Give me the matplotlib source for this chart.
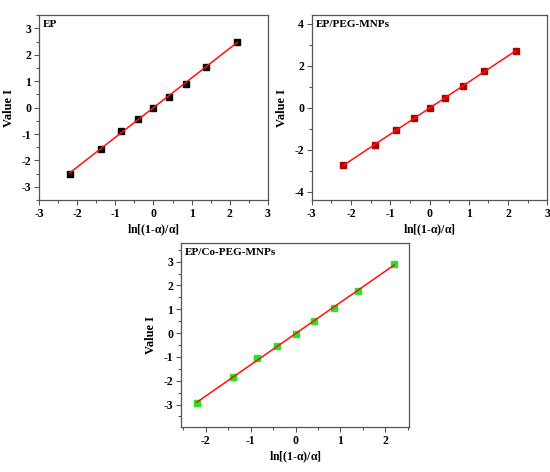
import numpy as np
import matplotlib
matplotlib.use("Agg")
import matplotlib.pyplot as plt
from matplotlib.ticker import MultipleLocator

plt.rcParams['font.family'] = ['Liberation Serif', 'DejaVu Serif']
plt.rcParams['font.weight'] = 'bold'
plt.rcParams['axes.unicode_minus'] = False
plt.rcParams['mathtext.fontset'] = 'custom'
plt.rcParams['mathtext.bf'] = 'Liberation Serif:bold'
plt.rcParams['mathtext.rm'] = 'Liberation Serif'

# ln[(1-a)/a] values (same for all samples)
x_vals = [-2.197, -1.386, -0.847, -0.405, 0.0, 0.405, 0.847, 1.386, 2.197]

ep_y = [-2.5, -1.55, -0.9, -0.42, 0.0, 0.4, 0.9, 1.55, 2.5]
peg_y = [-2.72, -1.8, -1.08, -0.5, 0.0, 0.47, 1.03, 1.72, 2.68]
co_y = [-2.95, -1.83, -1.05, -0.55, -0.02, 0.5, 1.05, 1.75, 2.9]

labels = ["EP", "EP/PEG-MNPs", "EP/Co-PEG-MNPs"]

fig = plt.figure(figsize=(5.5, 4.72), dpi=100)

def panel(rect, y, name, mcolor, xlim, ylim, ymaj, ymin, xticks):
    ax = fig.add_axes(rect)
    x = np.array(x_vals)
    yy = np.array(y)
    k, b = np.polyfit(x, yy, 1)
    ax.plot(x, yy, 's', ms=4.8, color=mcolor, mec=mcolor, zorder=2)
    ax.plot([x[0], x[-1]], [k * x[0] + b, k * x[-1] + b], '-', color='#ff1010', lw=1.1, zorder=3)
    ax.set_xlim(*xlim)
    ax.set_ylim(*ylim)
    ax.set_xticks(xticks)
    ax.xaxis.set_minor_locator(MultipleLocator(0.5))
    ax.yaxis.set_major_locator(MultipleLocator(ymaj))
    ax.yaxis.set_minor_locator(MultipleLocator(ymin))
    ax.tick_params(which='both', direction='out', labelsize=8.5, color='#555555', width=0.8, pad=2)
    ax.tick_params(which='major', length=3.5)
    ax.tick_params(which='minor', length=2)
    for s in ax.spines.values():
        s.set_color('#555555')
        s.set_linewidth(0.9)
    for t in ax.get_xticklabels() + ax.get_yticklabels():
        t.set_fontweight('bold')
    ax.set_xlabel(r'ln[(1-$\mathbf{\alpha}$)/$\mathbf{\alpha}$]', fontsize=8.5, fontweight='bold', labelpad=2)
    ax.set_ylabel('Value I', fontsize=9, fontweight='bold', labelpad=5)
    ax.text(0.015, 0.975, name, transform=ax.transAxes, ha='left', va='top', fontsize=8, fontweight='bold')
    return ax

panel([0.071, 0.576, 0.416, 0.392], ep_y, labels[0], 'black',
      (-3, 3), (-3.5, 3.5), 1, 0.5, [-3, -2, -1, 0, 1, 2, 3])
panel([0.567, 0.576, 0.428, 0.392], peg_y, labels[1], '#b00000',
      (-3, 3), (-4.4, 4.4), 2, 1, [-3, -2, -1, 0, 1, 2, 3])
panel([0.329, 0.095, 0.415, 0.39], co_y, labels[2], '#22e622',
      (-2.55, 2.53), (-3.95, 3.78), 1, 0.5, [-2, -1, 0, 1, 2])

fig.savefig('out.png', dpi=100)
